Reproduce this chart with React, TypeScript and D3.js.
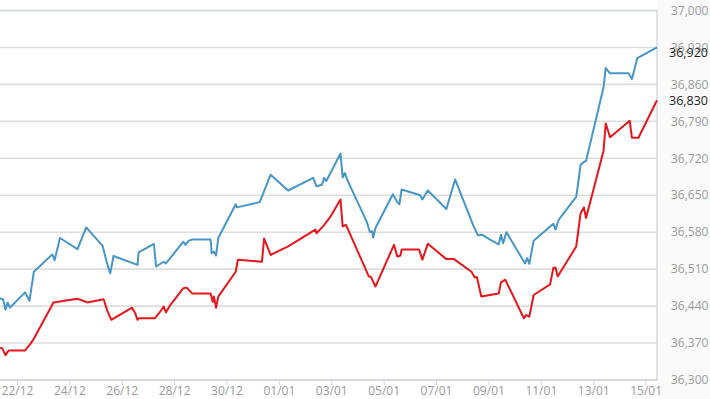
import React, { useRef, useEffect } from 'react';
import * as d3 from 'd3';

// [time, price] pairs
const buySeries: [string, number][] = [
  ['2023-12-21 08', 36455], ['2023-12-21 11', 36452], ['2023-12-21 13', 36433],
  ['2023-12-21 15', 36447], ['2023-12-21 17', 36437], ['2023-12-22 07', 36466],
  ['2023-12-22 11', 36450], ['2023-12-22 15', 36505], ['2023-12-23 08', 36538],
  ['2023-12-23 10', 36527], ['2023-12-23 15', 36569], ['2023-12-24 07', 36548],
  ['2023-12-24 15', 36589], ['2023-12-25 06', 36554], ['2023-12-25 10', 36522],
  ['2023-12-25 13', 36502], ['2023-12-25 16', 36535], ['2023-12-26 14', 36518],
  ['2023-12-26 15', 36542], ['2023-12-27 05', 36558], ['2023-12-27 07', 36515],
  ['2023-12-27 14', 36524], ['2023-12-27 16', 36521], ['2023-12-27 20', 36531],
  ['2023-12-28 08', 36562], ['2023-12-28 10', 36556], ['2023-12-28 13', 36564],
  ['2023-12-28 16', 36566], ['2023-12-29 09', 36566], ['2023-12-29 10', 36540],
  ['2023-12-29 12', 36543], ['2023-12-29 14', 36536], ['2023-12-29 16', 36569],
  ['2023-12-30 08', 36633], ['2023-12-30 09', 36627], ['2023-12-31 06', 36637],
  ['2023-12-31 16', 36689], ['2024-01-01 08', 36659], ['2024-01-02 07', 36683],
  ['2024-01-02 10', 36667], ['2024-01-02 15', 36670], ['2024-01-02 17', 36683],
  ['2024-01-02 19', 36677], ['2024-01-03 08', 36729], ['2024-01-03 10', 36684],
  ['2024-01-03 12', 36692], ['2024-01-03 14', 36680], ['2024-01-04 08', 36600],
  ['2024-01-04 11', 36580], ['2024-01-04 13', 36582], ['2024-01-04 14', 36570],
  ['2024-01-04 16', 36588], ['2024-01-05 08', 36652], ['2024-01-05 12', 36637],
  ['2024-01-05 14', 36633], ['2024-01-05 16', 36661], ['2024-01-06 09', 36650],
  ['2024-01-06 11', 36642], ['2024-01-06 16', 36659], ['2024-01-07 09', 36624],
  ['2024-01-07 17', 36680], ['2024-01-08 10', 36591], ['2024-01-08 14', 36574],
  ['2024-01-08 18', 36575], ['2024-01-09 01', 36566], ['2024-01-09 09', 36557],
  ['2024-01-09 11', 36575], ['2024-01-09 13', 36559], ['2024-01-09 16', 36580],
  ['2024-01-10 09', 36521], ['2024-01-10 11', 36531], ['2024-01-10 13', 36520],
  ['2024-01-10 17', 36564], ['2024-01-11 11', 36596], ['2024-01-11 13', 36585],
  ['2024-01-11 16', 36604], ['2024-01-12 08', 36647], ['2024-01-12 10', 36677],
  ['2024-01-12 12', 36708], ['2024-01-12 15', 36713], ['2024-01-12 17', 36715],
  ['2024-01-13 09', 36854], ['2024-01-13 11', 36891], ['2024-01-13 15', 36881],
  ['2024-01-14 08', 36881], ['2024-01-14 11', 36870], ['2024-01-14 16', 36910],
  ['2024-01-15 10', 36930],
];

const sellSeries: [string, number][] = [
  ['2023-12-21 08', 36361], ['2023-12-21 10', 36360], ['2023-12-21 13', 36347],
  ['2023-12-21 16', 36356], ['2023-12-22 07', 36356], ['2023-12-22 12', 36369],
  ['2023-12-22 15', 36378], ['2023-12-23 09', 36447], ['2023-12-24 07', 36454],
  ['2023-12-24 16', 36447], ['2023-12-25 07', 36453], ['2023-12-25 10', 36433],
  ['2023-12-25 14', 36414], ['2023-12-26 09', 36437], ['2023-12-26 12', 36426],
  ['2023-12-26 14', 36414], ['2023-12-26 15', 36417], ['2023-12-27 06', 36417],
  ['2023-12-27 12', 36433], ['2023-12-27 14', 36439], ['2023-12-27 16', 36428],
  ['2023-12-27 20', 36442], ['2023-12-28 08', 36474], ['2023-12-28 11', 36475],
  ['2023-12-28 16', 36464], ['2023-12-29 09', 36464], ['2023-12-29 11', 36448],
  ['2023-12-29 12', 36458], ['2023-12-29 14', 36437], ['2023-12-29 16', 36458],
  ['2023-12-30 08', 36505], ['2023-12-30 10', 36528], ['2023-12-31 08', 36524],
  ['2023-12-31 10', 36568], ['2023-12-31 16', 36537], ['2024-01-01 08', 36553],
  ['2024-01-02 09', 36585], ['2024-01-02 10', 36578], ['2024-01-02 16', 36591],
  ['2024-01-02 23', 36610], ['2024-01-03 08', 36642], ['2024-01-03 10', 36591],
  ['2024-01-03 13', 36594], ['2024-01-04 10', 36496], ['2024-01-04 12', 36495],
  ['2024-01-04 16', 36477], ['2024-01-05 09', 36556], ['2024-01-05 12', 36534],
  ['2024-01-05 15', 36536], ['2024-01-05 16', 36547], ['2024-01-06 08', 36547],
  ['2024-01-06 11', 36528], ['2024-01-06 16', 36558], ['2024-01-07 09', 36529],
  ['2024-01-07 16', 36529], ['2024-01-08 08', 36505], ['2024-01-08 11', 36494],
  ['2024-01-08 13', 36495], ['2024-01-08 17', 36458], ['2024-01-09 01', 36461],
  ['2024-01-09 09', 36464], ['2024-01-09 11', 36485], ['2024-01-09 15', 36490],
  ['2024-01-10 08', 36417], ['2024-01-10 10', 36423], ['2024-01-10 13', 36420],
  ['2024-01-10 17', 36461], ['2024-01-11 08', 36481], ['2024-01-11 11', 36512],
  ['2024-01-11 13', 36513], ['2024-01-11 15', 36496], ['2024-01-12 08', 36553],
  ['2024-01-12 12', 36616], ['2024-01-12 15', 36627], ['2024-01-12 17', 36607],
  ['2024-01-13 09', 36734], ['2024-01-13 11', 36786], ['2024-01-13 15', 36760],
  ['2024-01-14 09', 36791], ['2024-01-14 11', 36759], ['2024-01-14 17', 36759],
  ['2024-01-15 10', 36830],
];

// last-price labels shown at the right
const lastPrices = [36920, 36830];
const seriesColors = ['#4696c9', '#e8161b'];

const xDomain = ['2023-12-21 08', '2024-01-15 10'];
const xTickDates = [
  '2023-12-22', '2023-12-24', '2023-12-26', '2023-12-28', '2023-12-30',
  '2024-01-01', '2024-01-03', '2024-01-05', '2024-01-07', '2024-01-09',
  '2024-01-11', '2024-01-13', '2024-01-15',
];
const yTicks = [36300, 36370, 36440, 36510, 36580, 36650, 36720, 36790, 36860, 36930, 37000];

const WIDTH = 710;
const HEIGHT = 399;

const App = () => {
  const chartRef = useRef(null);

  useEffect(() => {
    const chartDOM = chartRef.current;
    if (!chartDOM) return;
    const svg = d3.select(chartDOM);
    svg.selectAll('*').remove();

    const parseHour = d3.timeParse('%Y-%m-%d %H');
    const parseDay = d3.timeParse('%Y-%m-%d');
    const fmtDay = d3.timeFormat('%d/%m');
    const fmtNum = d3.format(',');

    const plot = { left: 0, right: 657, top: 10.5, bottom: 380 };

    const x = d3
      .scaleTime()
      .domain(xDomain.map(d => parseHour(d)))
      .range([plot.left, plot.right]);
    const y = d3.scaleLinear().domain([36300, 37000]).range([plot.bottom, plot.top]);

    // right-side axis background
    svg
      .append('rect')
      .attr('x', plot.right)
      .attr('y', 0)
      .attr('width', WIDTH - plot.right)
      .attr('height', HEIGHT)
      .attr('fill', '#fafafa');

    // grid
    svg
      .append('g')
      .selectAll('line')
      .data(yTicks)
      .enter()
      .append('line')
      .attr('x1', plot.left)
      .attr('x2', plot.right)
      .attr('y1', d => y(d))
      .attr('y2', d => y(d))
      .attr('stroke', '#dedede')
      .attr('stroke-width', 1.6);

    // borders
    svg
      .append('path')
      .attr('d', `M${plot.left},${plot.top}H${plot.right}V${plot.bottom}H${plot.left}`)
      .attr('fill', 'none')
      .attr('stroke', '#cfd5dd')
      .attr('stroke-width', 1.3);

    // x ticks + labels
    const xt = svg
      .append('g')
      .selectAll('g')
      .data(xTickDates.map(d => parseDay(d)))
      .enter()
      .append('g')
      .attr('transform', d => 'translate(' + x(d) + ',0)');
    xt.append('line')
      .attr('y1', plot.bottom)
      .attr('y2', plot.bottom + 5)
      .attr('stroke', '#d3d8df')
      .attr('stroke-width', 1);
    xt.append('text')
      .attr('y', plot.bottom + 15)
      .attr('text-anchor', 'middle')
      .attr('font-family', '"Open Sans", sans-serif')
      .attr('font-size', 12)
      .attr('fill', '#9a9a9a')
      .text(d => fmtDay(d));

    // y labels
    svg
      .append('g')
      .selectAll('text')
      .data(yTicks)
      .enter()
      .append('text')
      .attr('x', 671)
      .attr('y', d => y(d))
      .attr('dy', '0.35em')
      .attr('font-family', '"Open Sans", sans-serif')
      .attr('font-size', 12)
      .attr('fill', '#9a9a9a')
      .text(d => fmtNum(d));

    // lines
    const line = d3
      .line<[Date, number]>()
      .x(d => x(d[0]))
      .y(d => y(d[1]));

    [buySeries, sellSeries].forEach((s, i) => {
      const pts = s.map(d => [parseHour(d[0]), d[1]] as [Date, number]);
      svg
        .append('path')
        .attr('d', line(pts))
        .attr('fill', 'none')
        .attr('stroke', seriesColors[i])
        .attr('stroke-width', 2)
        .attr('stroke-linejoin', 'round');
    });

    // last value labels
    svg
      .append('g')
      .selectAll('text')
      .data(lastPrices)
      .enter()
      .append('text')
      .attr('x', 669)
      .attr('y', d => y(d))
      .attr('dy', '0.35em')
      .attr('font-family', '"Open Sans", sans-serif')
      .attr('font-size', 12.5)
      .attr('fill', '#1e1e1e')
      .text(d => fmtNum(d));
  });

  return (
    <svg
      ref={chartRef}
      width={WIDTH}
      height={HEIGHT}
      style={{ position: 'absolute', left: 0, top: 0, background: '#fff' }}
    />
  );
};

export default App;
